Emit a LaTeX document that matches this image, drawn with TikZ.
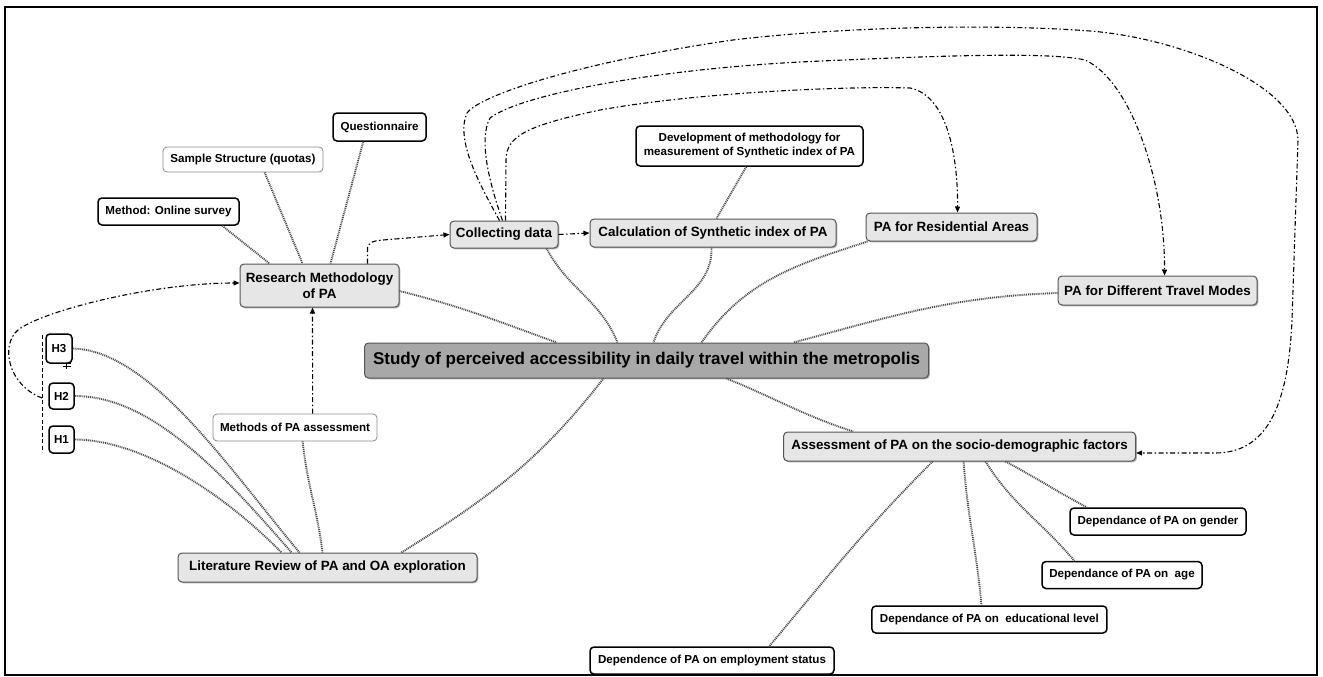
\documentclass[tikz,border=0pt]{standalone}
\usepackage{fontspec}
\setmainfont{Liberation Sans}
\usetikzlibrary{arrows.meta,shadows}
\definecolor{boxgray}{HTML}{E6E6E6}
\definecolor{maingray}{HTML}{A8A8A8}
\definecolor{edgegray}{HTML}{555555}
\begin{document}
\begin{tikzpicture}[x=1pt,y=-1pt,
  base/.style={rounded corners=4pt, inner sep=0pt, align=center, text=black,
    font=\bfseries\fontsize{11.6}{14}\selectfont},
  shad/.style={drop shadow={shadow xshift=1.3pt,shadow yshift=-1.3pt,fill=black,opacity=0.3}},
  graybox/.style={base, shad, draw=edgegray, line width=1pt, fill=boxgray,
    font=\bfseries\fontsize{13.4}{16}\selectfont},
  mainbox/.style={base, shad, draw=edgegray, line width=1pt, fill=maingray,
    font=\bfseries\fontsize{17}{20}\selectfont},
  thickbox/.style={base, draw=black, line width=1.5pt, fill=white},
  thinbox/.style={base, draw=black!45, line width=0.8pt, fill=white},
  link/.style={line width=1.9pt, black!70, dash pattern=on 1pt off 0.9pt},
  flow/.style={line width=1.1pt, dash pattern=on 5pt off 2.5pt on 1.5pt off 2.5pt,
    -{Triangle[length=6pt,width=5pt]}}
]
\useasboundingbox (0,0) rectangle (1323,677);
\draw[line width=1.8pt] (5,7) rectangle (1317,675);

% nodes
\node[thickbox, minimum width=93pt, minimum height=28pt] (quest) at (379.5,127) {Questionnaire};
\node[thinbox, minimum width=160pt, minimum height=25pt] (sample) at (243,159.5) {Sample Structure (quotas)};
\node[thickbox, minimum width=141pt, minimum height=27pt] (online) at (168.5,211.5) {Method: Online survey};
\node[graybox, minimum width=159pt, minimum height=43pt] (research) at (319.5,285.5) {Research Methodology\\of PA};
\node[graybox, minimum width=108pt, minimum height=27pt] (collect) at (504,234.5) {Collecting data};
\node[graybox, minimum width=246pt, minimum height=28pt] (calc) at (713,233) {Calculation of Synthetic index of PA};
\node[thickbox, minimum width=227pt, minimum height=40pt] (devel) at (749.5,146) {Development of methodology for\\measurement of Synthetic index of PA};
\node[graybox, minimum width=171pt, minimum height=28pt] (resid) at (951.5,227) {PA for Residential Areas};
\node[graybox, minimum width=199pt, minimum height=29pt] (travel) at (1157.5,290.5) {PA for Different Travel Modes};
\node[mainbox, minimum width=564pt, minimum height=35pt] (study) at (646.5,360.5) {Study of perceived accessibility in daily travel within the metropolis};
\node[graybox, minimum width=352pt, minimum height=29pt] (assess) at (959.6,446.5) {Assessment of PA on the socio-demographic factors};
\node[thickbox, minimum width=176pt, minimum height=27pt] (gender) at (1158,521.5) {Dependance of PA on gender};
\node[thickbox, minimum width=160pt, minimum height=27pt] (age) at (1122,575) {Dependance of PA on\ \ age};
\node[thickbox, minimum width=235pt, minimum height=27pt] (educ) at (989.4,619.5) {Dependance of PA on\ \ educational level};
\node[thickbox, minimum width=244pt, minimum height=27pt] (employ) at (712,660.5) {Dependence of PA on employment status};
\node[graybox, minimum width=299pt, minimum height=29pt] (lit) at (327.5,567.5) {Literature Review of PA and OA exploration};
\node[thinbox, minimum width=164pt, minimum height=27pt] (methods) at (295,427.5) {Methods of PA assessment};
\node[thickbox, minimum width=26pt, minimum height=29pt] (h3) at (59,348.5) {H3};
\node[thickbox, minimum width=25pt, minimum height=26pt] (h2) at (61.5,396) {H2};
\node[thickbox, minimum width=25pt, minimum height=27pt] (h1) at (61.5,439.5) {H1};

% hypothesis bracket line and mark
\coordinate (vtop) at (42,335);
\coordinate (vbot) at (42,452);
\coordinate (vmid) at (42,398);
\draw[line width=1pt, dash pattern=on 4pt off 2.5pt] (vtop) -- (vbot);
\draw[line width=0.8pt] (63,363) -- (71,363) (63,366.5) -- (71,366.5) (66,363) -- (66,369);

% dotted links
\draw[link] ([xshift=125pt]online.south west) -- ([xshift=30pt]research.north west);
\draw[link] ([xshift=102pt]sample.south west) -- ([xshift=63pt]research.north west);
\draw[link] ([xshift=31pt]quest.south west) -- ([xshift=91pt]research.north west);
\draw[link] ([yshift=-5.5pt]research.east) to[out=-14,in=160] ([xshift=192.5pt]study.north west);
\draw[link] ([xshift=97pt]collect.south west) to[out=-62,in=112] ([xshift=253.5pt]study.north west);
\draw[link] ([xshift=122pt]calc.south west) to[out=-88,in=72] ([xshift=289.5pt]study.north west);
\draw[link] ([xshift=111pt]devel.south west) -- ([xshift=127pt]calc.north west);
\draw[link] ([xshift=2pt]resid.south west) to[out=198,in=55] ([xshift=337.5pt]study.north west);
\draw[link] ([yshift=-2.5pt]travel.west) to[out=182,in=15] ([xshift=429.5pt]study.north west);
\draw[link] ([xshift=224pt]lit.north west) to[out=32,in=-128] ([xshift=239.5pt]study.south west);
\draw[link] ([xshift=362.5pt]study.south west) to[out=-22,in=162] ([xshift=70pt]assess.north west);
\draw[link] ([xshift=149.5pt]assess.south west) to[out=-135,in=50] ([xshift=180pt]employ.north west);
\draw[link] ([xshift=180.5pt]assess.south west) to[out=-86,in=95] ([xshift=110.3pt]educ.north west);
\draw[link] ([xshift=202.4pt]assess.south west) to[out=-58,in=130] ([xshift=33pt]age.north west);
\draw[link] ([xshift=222.4pt]assess.south west) to[out=-28,in=152] ([xshift=17.5pt]gender.north west);
\draw[link] (h3.east) .. controls (150,350) and (230,470) .. ([xshift=122pt]lit.north west);
\draw[link] (h2.east) .. controls (150,396) and (220,470) .. ([xshift=114pt]lit.north west);
\draw[link] (h1.east) .. controls (140,440) and (220,490) .. ([xshift=104pt]lit.north west);
\draw[link] ([xshift=90pt]methods.south west) to[out=-84,in=97] ([xshift=145pt]lit.north west);

% dash-dot arrows
\draw[flow] ([xshift=100pt]methods.north west) -- ([xshift=73pt]research.south west);
\draw[flow] ([xshift=128pt]research.north west) -- ++(0,-14) .. controls +(0,-7) and (372,241) .. (383,240) -- (collect.west);
\draw[flow] (collect.east) -- (calc.west);
\draw[flow] (vmid) .. controls (8,385) and (0,345) .. (18,330) .. controls (40,312) and (150,283) .. ([yshift=2.5pt]research.west);
\draw[flow] ([xshift=56pt]collect.north west) -- (506,160) .. controls (506,135) and (530,125) .. (600,110)
  .. controls (700,92) and (850,86) .. (910,88) .. controls (945,95) and (958,150) .. ([xshift=92pt]resid.north west);
\draw[flow] ([xshift=53pt]collect.north west) .. controls (490,185) and (478,140) .. (490,118)
  .. controls (520,95) and (650,70) .. (800,62) .. controls (950,55) and (1050,52) .. (1085,60)
  .. controls (1130,80) and (1165,180) .. ([xshift=107pt]travel.north west);
\draw[flow] ([xshift=50pt]collect.north west) .. controls (480,185) and (455,140) .. (467,113)
  .. controls (480,95) and (580,62) .. (733,40) .. controls (850,26) and (1000,24) .. (1090,31)
  .. controls (1180,38) and (1297,85) .. (1298,140) -- (1292,320)
  .. controls (1288,410) and (1265,453) .. (1215,453) -- ([yshift=-6.5pt]assess.east);
\end{tikzpicture}
\end{document}
